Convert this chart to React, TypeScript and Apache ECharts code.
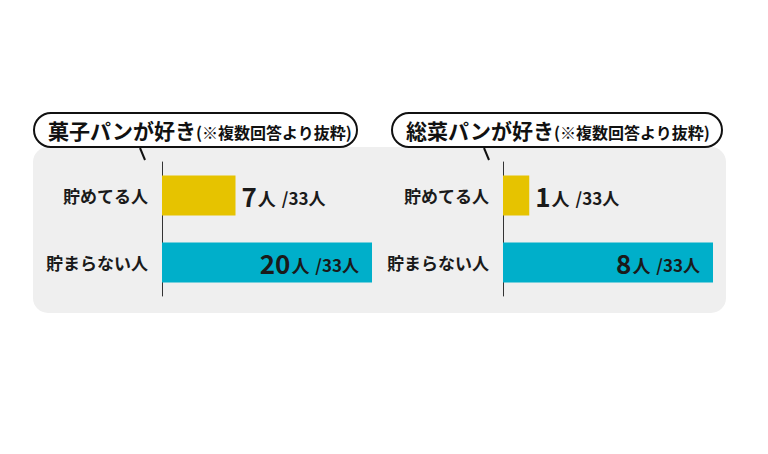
import React, { useEffect, useRef } from 'react';
import * as echarts from 'echarts';

const categories = ['貯めてる人', '貯まらない人'];
const sweetValues = [7, 20];
const savoryValues = [1, 8];
const totalCount = 33;
const panelTitles = ['菓子パンが好き', '総菜パンが好き'];
const titleNote = '(※複数回答より抜粋)';
const barColors = ['#e6c300', '#00afca'];

const FONT = '"Noto Sans CJK JP", "Noto Sans", sans-serif';

function valueLabel(v: number) {
  return `{big|${v}}{mid|人}{small|/${totalCount}人}`;
}

const richLabel = {
  big: { fontSize: 26, fontWeight: 'bold', color: '#1a1a1a', fontFamily: FONT },
  mid: { fontSize: 18, fontWeight: 'bold', color: '#1a1a1a', fontFamily: FONT, padding: [4, 0, 0, 1] },
  small: { fontSize: 17, fontWeight: 'bold', color: '#1a1a1a', fontFamily: FONT, padding: [4, 0, 0, 6] },
};

function buildSeries(values: number[], index: number) {
  return {
    type: 'bar',
    xAxisIndex: index,
    yAxisIndex: index,
    barWidth: 40,
    data: values.map((v, i) => ({
      value: v,
      itemStyle: { color: barColors[i] },
      label: {
        show: true,
        position: i === 0 ? 'right' : 'insideRight',
        distance: i === 0 ? 6 : 13,
        formatter: () => valueLabel(v),
        rich: richLabel,
      },
    })),
  };
}

function titleBubble(x: number, width: number, title: string, tailX: number) {
  return [
    {
      type: 'rect',
      z: 10,
      shape: { x, y: 113, width, height: 34, r: 17 },
      style: { fill: '#ffffff', stroke: '#111111', lineWidth: 2 },
    },
    {
      type: 'line',
      z: 10,
      shape: { x1: tailX, y1: 148, x2: tailX + 5, y2: 160 },
      style: { stroke: '#111111', lineWidth: 2 },
    },
    {
      type: 'text',
      z: 11,
      x: x + 14,
      y: 130,
      style: {
        text: `{a|${title}}{b|${titleNote}}`,
        verticalAlign: 'middle',
        rich: {
          a: { fontSize: 21, fontWeight: 'bold', fill: '#111111', fontFamily: FONT },
          b: { fontSize: 16, fontWeight: 'bold', fill: '#111111', fontFamily: FONT, padding: [4, 0, 0, 1] },
        },
      },
    },
  ];
}

export default function App() {
  const chartRef = useRef<HTMLDivElement>(null);

  useEffect(() => {
    if (!chartRef.current) return;
    document.body.style.margin = '0';
    const chart = echarts.init(chartRef.current, undefined, { renderer: 'svg' });

    const yAxisBase = {
      type: 'category',
      data: categories,
      inverse: true,
      axisTick: { show: false },
      axisLine: { show: true, lineStyle: { color: '#333333', width: 1 } },
      axisLabel: {
        margin: 14,
        fontSize: 17,
        fontWeight: 'bold',
        color: '#1a1a1a',
        fontFamily: FONT,
      },
    };

    chart.setOption({
      animation: false,
      backgroundColor: '#ffffff',
      grid: [
        { left: 162, width: 210, top: 162, height: 134 },
        { left: 503, width: 210, top: 162, height: 134 },
      ],
      xAxis: [
        { type: 'value', gridIndex: 0, min: 0, max: Math.max(...sweetValues), show: false },
        { type: 'value', gridIndex: 1, min: 0, max: Math.max(...savoryValues), show: false },
      ],
      yAxis: [
        { ...yAxisBase, gridIndex: 0 },
        { ...yAxisBase, gridIndex: 1 },
      ],
      graphic: [
        {
          type: 'rect',
          z: -10,
          silent: true,
          shape: { x: 33, y: 147, width: 693, height: 166, r: 15 },
          style: { fill: '#efefef' },
        },
        ...titleBubble(34, 323, panelTitles[0], 140),
        ...titleBubble(392, 330, panelTitles[1], 484),
      ],
      series: [buildSeries(sweetValues, 0), buildSeries(savoryValues, 1)],
    });

    return () => {
      chart.dispose();
    };
  }, []);

  return <div ref={chartRef} style={{ width: 768, height: 454 }} />;
}
